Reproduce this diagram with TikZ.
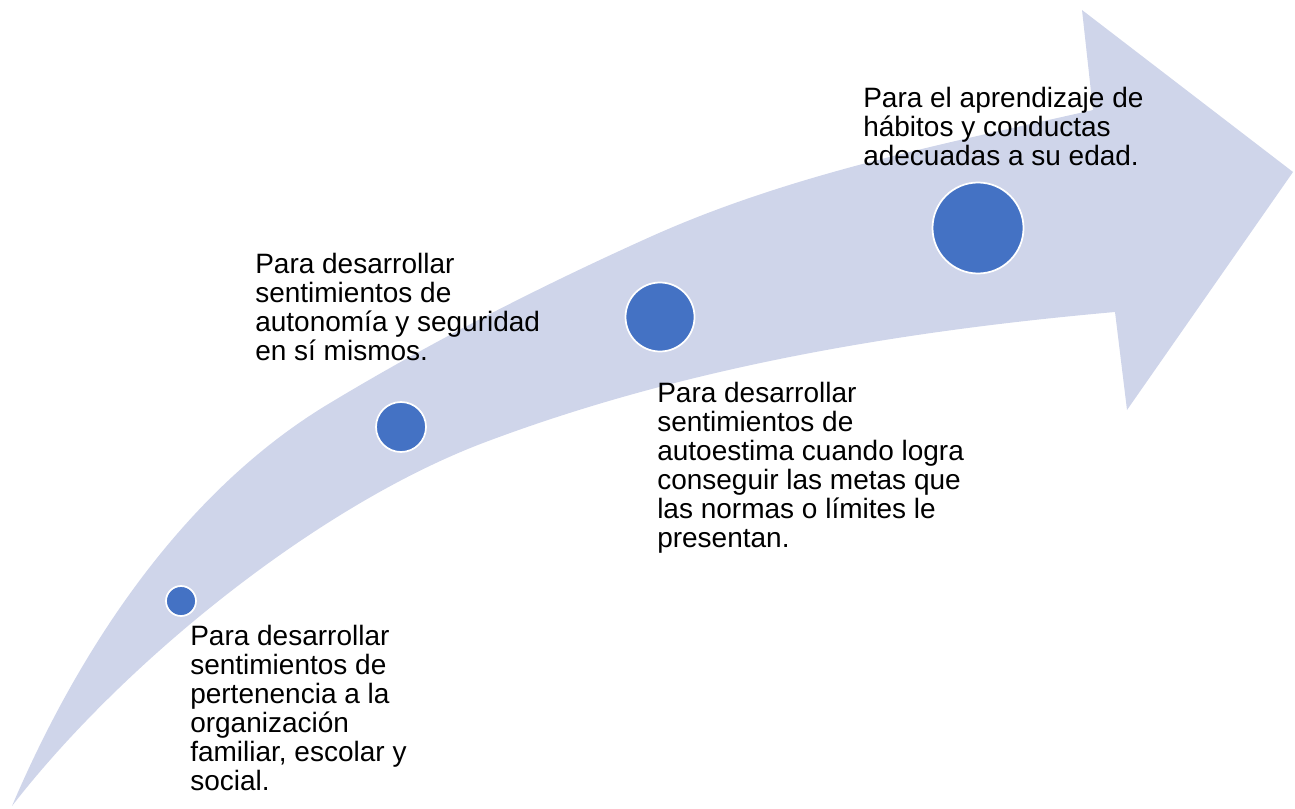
\documentclass[tikz,border=0pt]{standalone}
\usepackage{fontspec}
\setmainfont{Liberation Sans}
\definecolor{arrowfill}{HTML}{CFD5EA}
\definecolor{dotblue}{HTML}{4472C4}
\tikzset{
  lbl/.style={anchor=north west, inner sep=0pt, align=left, text=black,
    font=\fontsize{21}{21.75}\selectfont},
  dot/.style={circle, fill=dotblue, draw=white, line width=1.3pt, inner sep=0pt}
}
\begin{document}
\begin{tikzpicture}[x=0.75pt, y=-0.75pt]
\useasboundingbox (0,0) rectangle (1295,809);
% curved arrow
\fill[arrowfill] (12,806)
  .. controls (79,649) and (183,491) .. (330,403)
  .. controls (433,341) and (541,286) .. (650,237)
  .. controls (790,174) and (943,144) .. (1093,110)
  -- (1082,10) -- (1293,172) -- (1127,410) -- (1115,312)
  .. controls (901,331) and (684,367) .. (483,443)
  .. controls (315,507) and (122,664) .. (12,806)
  -- cycle;
% dots
\node[dot, minimum size=22.5pt] (c1) at (181,601) {};
\node[dot, minimum size=37.5pt] (c2) at (401,427) {};
\node[dot, minimum size=51.75pt] (c3) at (660,317) {};
\node[dot, minimum size=68.25pt] (c4) at (978,228) {};
% labels
\node[lbl] (t1) at (190,625) {Para desarrollar\\sentimientos de\\pertenencia a la\\organización\\familiar, escolar y\\social.};
\node[lbl] (t2) at (255,253) {Para desarrollar\\sentimientos de\\autonomía y seguridad\\en sí mismos.};
\node[lbl] (t3) at (657,382) {Para desarrollar\\sentimientos de\\autoestima cuando logra\\conseguir las metas que\\las normas o límites le\\presentan.};
\node[lbl] (t4) at (863,87) {Para el aprendizaje de\\hábitos y conductas\\adecuadas a su edad.};
\end{tikzpicture}
\end{document}
